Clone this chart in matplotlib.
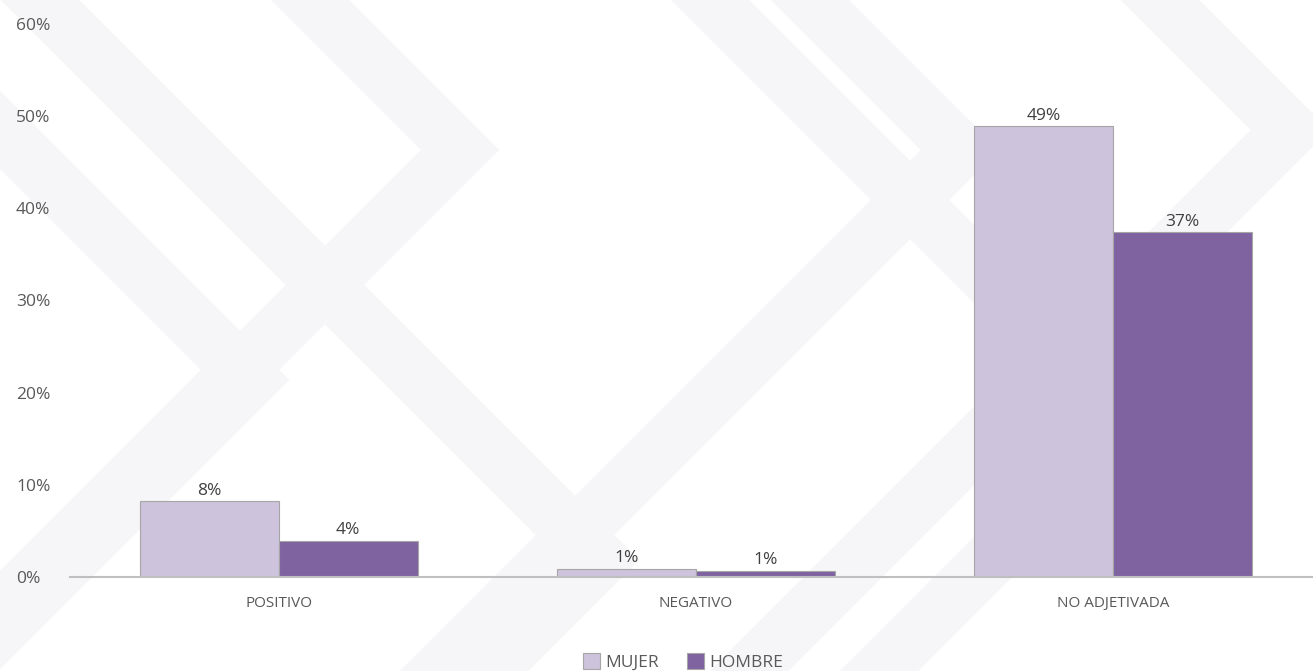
import matplotlib.pyplot as plt
from matplotlib.lines import Line2D
import numpy as np

plt.rcParams['font.family'] = ['Open Sans', 'DejaVu Sans']

categories = ['POSITIVO', 'NEGATIVO', 'NO ADJETIVADA']
mujer = [8.2, 0.9, 48.9]
hombre = [3.9, 0.7, 37.4]
mujer_labels = ['8%', '1%', '49%']
hombre_labels = ['4%', '1%', '37%']
yticks = [0, 10, 20, 30, 40, 50, 60]

W, H = 1313, 671
fig = plt.figure(figsize=(W / 100, H / 100), dpi=100)
fig.patch.set_facecolor('white')

# faint chevron background (decoration, pixel coords from the top-left)
def px(x, y):
    return x / W, 1 - y / H

band = '#F6F6F8'
for vx, vy in [(460, 150), (250, 380), (960, 150), (1290, 130), (600, 560), (1130, 420)]:
    xs = [vx - 700, vx, vx - 700]
    ys = [vy - 700, vy, vy + 700]
    f = [px(a, b) for a, b in zip(xs, ys)]
    fig.add_artist(Line2D([p[0] for p in f], [p[1] for p in f], color=band,
                          lw=40, solid_joinstyle='miter', zorder=0))

ax = fig.add_axes([70 / W, 94 / H, 1 - 70 / W, (577 - 24) / H])
ax.set_facecolor('none')

x = np.arange(len(categories))
w = 1 / 3
b1 = ax.bar(x - w / 2, mujer, w, color='#CDC3DC', edgecolor='#A6A6A6', linewidth=0.8, label='MUJER')
b2 = ax.bar(x + w / 2, hombre, w, color='#7F62A0', edgecolor='#A6A6A6', linewidth=0.8, label='HOMBRE')

for bars, labels in [(b1, mujer_labels), (b2, hombre_labels)]:
    for r, t in zip(bars, labels):
        ax.text(r.get_x() + r.get_width() / 2, r.get_height() + 0.3, t,
                ha='center', va='bottom', fontsize=12.5, color='#404040')

ax.set_xlim(-0.5, 2.48)
ax.set_ylim(0, 60)
ax.set_yticks(yticks)
ax.set_yticklabels([f'{v}%' for v in yticks])
ax.set_xticks(x)
ax.set_xticklabels(categories)
ax.tick_params(axis='y', length=0, labelsize=12.5, labelcolor='#595959', pad=0)
for lab in ax.get_yticklabels():
    lab.set_horizontalalignment('left')
    lab.set_x(-54 / (W - 70))
ax.tick_params(axis='x', length=0, labelsize=11, labelcolor='#595959', pad=14)

for s in ['top', 'right', 'left']:
    ax.spines[s].set_visible(False)
ax.spines['bottom'].set_color('#BFBFBF')
ax.spines['bottom'].set_linewidth(1.5)

fig.legend(loc='center', bbox_to_anchor=(683 / W, 1 - 662 / H), ncol=2, frameon=False,
           fontsize=12.5, labelcolor='#595959', handlelength=1.0, handleheight=1.0,
           handletextpad=0.3, columnspacing=1.6)

fig.savefig('out.png', dpi=100)
